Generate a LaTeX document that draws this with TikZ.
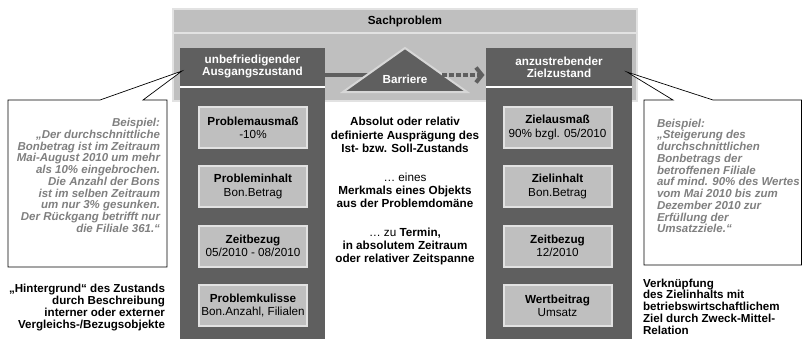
\documentclass[tikz,border=0pt]{standalone}
\usepackage{fontspec}
\setmainfont{Liberation Sans}
\usetikzlibrary{arrows.meta}
\definecolor{darkgrey}{HTML}{5F5F5F}
\definecolor{midgrey}{HTML}{BFBFBF}
\definecolor{rimgrey}{HTML}{E2E2E2}
\definecolor{notegrey}{HTML}{808080}
\begin{document}
\begin{tikzpicture}[x=1pt,y=-1pt,
  every node/.style={inner sep=0pt, outer sep=0pt},
  txt/.style={font=\fontsize{11.7}{13.3}\selectfont\bfseries},
  panel/.style={fill=midgrey, draw=rimgrey, line width=2pt},
  column/.style={fill=darkgrey},
  sepline/.style={draw=white, line width=1.6pt},
  head/.style={txt, text=white, align=center, font=\fontsize{11.7}{12}\selectfont\bfseries},
  attr/.style={fill=midgrey, draw=rimgrey, line width=2pt, minimum width=108pt,
    minimum height=41pt, align=center, font=\fontsize{11.7}{13.3}\selectfont},
  mid/.style={txt, align=center},
  note/.style={text=notegrey, font=\fontsize{11.5}{11.75}\selectfont\bfseries\itshape},
  remark/.style={font=\fontsize{11.6}{11.75}\selectfont\bfseries},
  callout/.style={draw=black, line width=0.7pt, fill=white, line join=miter},
  barline/.style={draw=darkgrey, line width=4pt},
  flow/.style={draw=darkgrey, line width=4pt, dash pattern=on 4.5pt off 2.5pt,
    -{Straight Barb[length=6pt, width=15pt]}, shorten >=1.5pt},
  barrier/.style={fill=darkgrey, draw=rimgrey!95!black, line width=2pt, line join=miter}
]
\useasboundingbox (0,0) rectangle (803,345);

% problem frame with its title band
\node[panel, minimum width=464pt, minimum height=92pt] (sach) at (405,55) {};
\draw[draw=rimgrey, line width=2pt] (sach.west |- 0,33) -- (sach.east |- 0,33);
\node[txt] (sachtitle) at (405,21) {Sachproblem};

% current state column
\node[column, minimum width=145pt, minimum height=291pt] (lcol) at (252.5,193.5) {};
\node[head] (lhead) at (252.5,67) {unbefriedigender\\Ausgangszustand};
\draw[sepline] (lcol.west |- 0,87) -- (lcol.east |- 0,87);

% target state column
\node[column, minimum width=146pt, minimum height=291pt] (rcol) at (559,193.5) {};
\node[head] (rhead) at (559,67) {anzustrebender\\Zielzustand};
\draw[sepline] (rcol.west |- 0,87) -- (rcol.east |- 0,87);

% barrier between the two states
\coordinate (axis) at (405,75);
\coordinate (barR) at (442,75);
\draw[barline] (lcol.east |- axis) -- (axis);
\draw[barrier] (343,92) -- (405,48) -- (467,92) -- cycle;
\node[head] (bar) at (405,79.5) {Barriere};
\draw[flow] (barR) -- (rcol.west |- barR);

% attributes of the current state
\node[attr] (pa) at (253,127.5) {\textbf{Problemausmaß}\\-10\%};
\node[attr] (pi) at (253,186.5) {\textbf{Probleminhalt}\\Bon.Betrag};
\node[attr] (pz) at (253,246) {\textbf{Zeitbezug}\\05/2010 - 08/2010};
\node[attr] (pk) at (253,305.5) {\textbf{Problemkulisse}\\Bon.Anzahl, Filialen};

% attributes of the target state
\node[attr] (za) at (557.5,127.5) {\textbf{Zielausmaß}\\90\% bzgl. 05/2010};
\node[attr] (zi) at (557.5,186.5) {\textbf{Zielinhalt}\\Bon.Betrag};
\node[attr] (zz) at (557.5,246) {\textbf{Zeitbezug}\\12/2010};
\node[attr] (zw) at (557.5,305.5) {\textbf{Wertbeitrag}\\Umsatz};

% explanations in the middle
\node[mid] (m1) at (405,135) {Absolut oder relativ\\definierte Ausprägung des\\Ist- bzw. Soll-Zustands};
\node[mid] (m2) at (405,190.5) {{\mdseries … eines}\\Merkmals eines Objekts\\aus der Problemdomäne};
\node[mid] (m3) at (405,246.5) {{\mdseries … zu} Termin,\\in absolutem Zeitraum\\oder relativer Zeitspanne};

% example callouts
\draw[callout] (8,100) -- (100,100) -- (182,71) -- (143,100) -- (167,100)
  -- (167,267) -- (8,267) -- cycle;
\node[note, anchor=east, align=right] (lnote) at (160,175.5)
  {Beispiel:\\„Der durchschnittliche\\Bonbetrag ist im Zeitraum\\Mai-August 2010 um mehr\\als 10\% eingebrochen.\\Die Anzahl der Bons\\ist im selben Zeitraum\\um nur 3\% gesunken.\\Der Rückgang betrifft nur\\die Filiale 361.“};

\draw[callout] (644,100) -- (673,100) -- (627,72) -- (713,100) -- (801.5,100)
  -- (801.5,265) -- (644,265) -- cycle;
\node[note, anchor=west, align=left] (rnote) at (657,176)
  {Beispiel:\\„Steigerung des\\durchschnittlichen\\Bonbetrags der\\betroffenen Filiale\\auf mind. 90\% des Wertes\\vom Mai 2010 bis zum\\Dezember 2010 zur\\Erfüllung der\\Umsatzziele.“};

% side remarks
\node[remark, anchor=east, align=right] (lrem) at (165,307.5)
  {„Hintergrund“ des Zustands\\durch Beschreibung\\interner oder externer\\Vergleichs-/Bezugsobjekte};
\node[remark, anchor=west, align=left] (rrem) at (643,306.5)
  {Verknüpfung\\des Zielinhalts mit\\betriebswirtschaftlichem\\Ziel durch Zweck-Mittel-\\Relation};
\end{tikzpicture}
\end{document}
